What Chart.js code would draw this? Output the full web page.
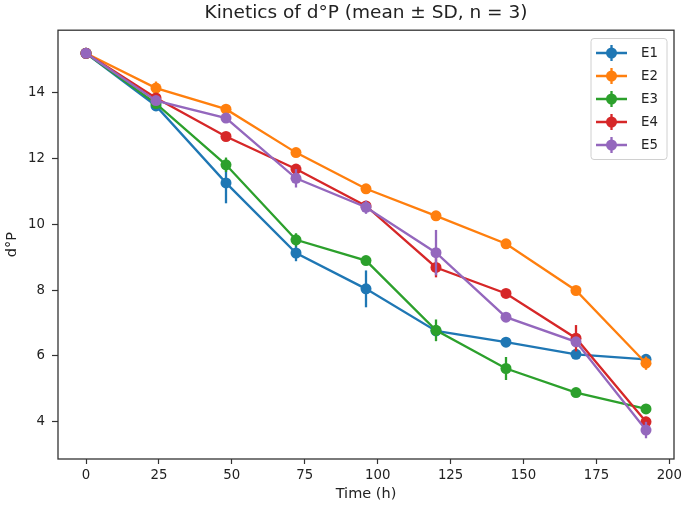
<!DOCTYPE html>
<html>
<head>
<meta charset="utf-8">
<title>Kinetics of d°P</title>
<script src="https://cdn.jsdelivr.net/npm/chart.js@4.4.1/dist/chart.umd.min.js"></script>
<style>
  html, body { margin: 0; padding: 0; background: #fff; }
  #wrap { width: 687px; height: 510px; }
</style>
</head>
<body>
<div id="wrap"><canvas id="c" width="687" height="510"></canvas></div>
<script>
// sampling times (h)
const times = [0, 24, 48, 72, 96, 120, 144, 168, 192];

// mean d°P per extract
const e1 = [15.2, 13.6, 11.26, 9.13, 8.04, 6.76, 6.42, 6.05, 5.9];
const e2 = [15.2, 14.14, 13.5, 12.18, 11.08, 10.26, 9.41, 7.99, 5.78];
const e3 = [15.2, 13.67, 11.81, 9.53, 8.9, 6.78, 5.62, 4.89, 4.39];
const e4 = [15.2, 13.84, 12.67, 11.68, 10.56, 8.69, 7.9, 6.54, 4.0];
const e5 = [15.2, 13.76, 13.23, 11.4, 10.52, 9.14, 7.18, 6.43, 3.75];

// standard deviations
const e1Sd = [0.05, 0.1, 0.62, 0.25, 0.56, 0.12, 0.12, 0.1, 0.1];
const e2Sd = [0.05, 0.2, 0.1, 0.1, 0.1, 0.1, 0.1, 0.1, 0.2];
const e3Sd = [0.05, 0.1, 0.22, 0.2, 0.12, 0.33, 0.35, 0.1, 0.1];
const e4Sd = [0.05, 0.12, 0.1, 0.12, 0.15, 0.3, 0.1, 0.4, 0.15];
const e5Sd = [0.05, 0.12, 0.15, 0.28, 0.2, 0.69, 0.12, 0.12, 0.25];

const seriesNames = ['E1', 'E2', 'E3', 'E4', 'E5'];
const seriesColors = ['#1f77b4', '#ff7f0e', '#2ca02c', '#d62728', '#9467bd'];
const means = [e1, e2, e3, e4, e5];
const sds = [e1Sd, e2Sd, e3Sd, e4Sd, e5Sd];

const xTickStep = 25;
const yTickStep = 2;

const FONT = 'DejaVu Sans';
const LW = 2.3;

// error bars + frame + matplotlib-ish legend
const mplBits = {
    id: 'mplBits',
    afterDatasetDraw(chart, args) {
        const i = args.index;
        const ctx = chart.ctx;
        const xs = chart.scales.x, ys = chart.scales.y;
        ctx.save();
        ctx.strokeStyle = seriesColors[i];
        ctx.lineWidth = LW;
        times.forEach((t, k) => {
            const px = xs.getPixelForValue(t);
            ctx.beginPath();
            ctx.moveTo(px, ys.getPixelForValue(means[i][k] - sds[i][k]));
            ctx.lineTo(px, ys.getPixelForValue(means[i][k] + sds[i][k]));
            ctx.stroke();
        });
        ctx.restore();
    },
    afterDraw(chart) {
        const ctx = chart.ctx;
        const a = chart.chartArea;
        ctx.save();
        ctx.strokeStyle = '#333';
        ctx.lineWidth = 1.3;
        ctx.strokeRect(a.left, a.top, a.right - a.left, a.bottom - a.top);

        // legend box
        const bx = 591, by = 38.5, bw = 76, bh = 121;
        ctx.fillStyle = 'rgba(255,255,255,0.8)';
        ctx.strokeStyle = '#d0d0d0';
        ctx.lineWidth = 1;
        ctx.beginPath();
        ctx.roundRect(bx, by, bw, bh, 3);
        ctx.fill();
        ctx.stroke();

        ctx.font = '13.3px "' + FONT + '"';
        ctx.textBaseline = 'middle';
        ctx.textAlign = 'left';
        seriesNames.forEach((name, i) => {
            const cy = by + 14.5 + i * 23;
            ctx.strokeStyle = seriesColors[i];
            ctx.fillStyle = seriesColors[i];
            ctx.lineWidth = LW;
            ctx.beginPath();
            ctx.moveTo(596, cy);
            ctx.lineTo(627, cy);
            ctx.moveTo(611.5, cy - 8);
            ctx.lineTo(611.5, cy + 8);
            ctx.stroke();
            ctx.beginPath();
            ctx.arc(611.5, cy, 5.5, 0, Math.PI * 2);
            ctx.fill();
            ctx.fillStyle = '#222';
            ctx.fillText(name, 641, cy + 1);
        });
        ctx.restore();
    }
};

const datasets = seriesNames.map((name, i) => ({
    label: name,
    data: times.map((t, k) => ({ x: t, y: means[i][k] })),
    borderColor: seriesColors[i],
    backgroundColor: seriesColors[i],
    borderWidth: LW,
    pointRadius: 5.5,
    pointHoverRadius: 5.5,
    pointBorderWidth: 0,
    tension: 0,
    order: seriesNames.length - i
}));

new Chart(document.getElementById('c'), {
    type: 'line',
    data: { datasets },
    plugins: [mplBits],
    options: {
        responsive: false,
        devicePixelRatio: 1,
        animation: false,
        layout: { padding: { left: 0, right: 13, top: 0, bottom: 0 } },
        plugins: {
            legend: { display: false },
            tooltip: { enabled: false },
            title: {
                display: true,
                text: 'Kinetics of d°P (mean ± SD, n = 3)',
                fullSize: false,
                color: '#222',
                font: { family: FONT, size: 18.5, weight: 'normal' },
                padding: { top: 2.5, bottom: 5.5 }
            }
        },
        scales: {
            x: {
                type: 'linear',
                min: -9.6,
                max: 201.6,
                afterFit: s => { s.height = 51; },
                ticks: {
                    stepSize: xTickStep,
                    includeBounds: false,
                    color: '#222',
                    padding: 4,
                    maxRotation: 0,
                    font: { family: FONT, size: 13.3 }
                },
                grid: { drawOnChartArea: false, tickLength: 5, color: '#333', tickWidth: 1.2 },
                border: { display: false },
                title: {
                    display: true,
                    text: 'Time (h)',
                    color: '#222',
                    font: { family: FONT, size: 14.5 },
                    padding: { top: 4, bottom: 7 }
                }
            },
            y: {
                min: 2.87,
                max: 15.9,
                afterFit: s => { s.width = 58; },
                ticks: {
                    stepSize: yTickStep,
                    includeBounds: false,
                    color: '#222',
                    padding: 7,
                    font: { family: FONT, size: 13.3 }
                },
                grid: { drawOnChartArea: false, tickLength: 6, color: '#333', tickWidth: 1.2 },
                border: { display: false },
                title: {
                    display: true,
                    text: 'd°P',
                    color: '#222',
                    font: { family: FONT, size: 14.5 },
                    padding: { top: 4, bottom: 0 }
                }
            }
        }
    }
});
</script>
</body>
</html>
